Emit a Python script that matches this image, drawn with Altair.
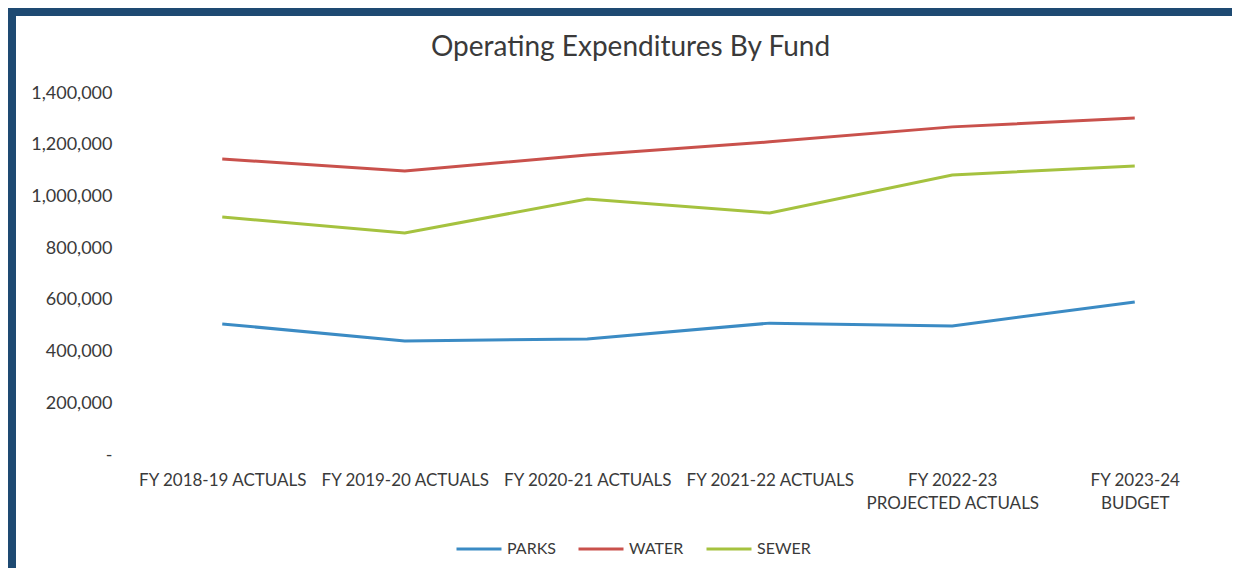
import altair as alt
import pandas as pd

years = [
    "FY 2018-19 ACTUALS",
    "FY 2019-20 ACTUALS",
    "FY 2020-21 ACTUALS",
    "FY 2021-22 ACTUALS",
    "FY 2022-23 PROJECTED ACTUALS",
    "FY 2023-24 BUDGET",
]
funds = ["PARKS", "WATER", "SEWER"]
parks = [507000, 441000, 449000, 510000, 499000, 592000]
water = [1145000, 1098000, 1160000, 1211000, 1269000, 1303000]
sewer = [920000, 859000, 990000, 936000, 1083000, 1118000]
fund_colors = ["#3B8BC4", "#C9514C", "#A5C23F"]
y_ticks = [0, 200000, 400000, 600000, 800000, 1000000, 1200000, 1400000]

rows = []
for fund, vals in zip(funds, [parks, water, sewer]):
    for yr, v in zip(years, vals):
        rows.append({"year": yr, "fund": fund, "value": v})
df = pd.DataFrame(rows)

FONT = "Lato"
TXT = "#3a3a3a"

x_label_expr = (
    "datum.value == 'FY 2022-23 PROJECTED ACTUALS' ? ['FY 2022-23', 'PROJECTED ACTUALS'] : "
    "datum.value == 'FY 2023-24 BUDGET' ? ['FY 2023-24', 'BUDGET'] : datum.value"
)
y_label_expr = "datum.value == 0 ? '-\u00a0\u00a0\u00a0' : format(datum.value, ',')"

lines = alt.Chart(df).mark_line(strokeWidth=3).encode(
    x=alt.X(
        "year:N",
        sort=years,
        title=None,
        axis=alt.Axis(
            labelAngle=0,
            labelExpr=x_label_expr,
            ticks=False,
            domain=False,
            labelPadding=17,
            labelBaseline="top",
            labelLineHeight=23,
            labelFont=FONT,
            labelFontSize=17,
            labelColor=TXT,
            labelLimit=300,
        ),
    ),
    y=alt.Y(
        "value:Q",
        title=None,
        scale=alt.Scale(domain=[0, 1400000], nice=False),
        axis=alt.Axis(
            values=y_ticks,
            labelExpr=y_label_expr,
            ticks=False,
            domain=False,
            grid=False,
            labelPadding=19,
            labelFont=FONT,
            labelFontSize=18,
            labelColor=TXT,
        ),
    ),
    color=alt.Color(
        "fund:N",
        sort=funds,
        scale=alt.Scale(domain=funds, range=fund_colors),
        legend=alt.Legend(
            title=None,
            orient="none",
            direction="horizontal",
            legendX=324,
            legendY=432,
            symbolType="stroke",
            symbolSize=2025,
            symbolStrokeWidth=3,
            labelFont=FONT,
            labelFontSize=16,
            labelColor=TXT,
            labelOffset=4,
            columnPadding=16,
        ),
    ),
    detail="fund:N",
)

frame_df = pd.DataFrame({"part": ["top", "left"]})
frame_top = alt.Chart(frame_df.iloc[[0]]).mark_rect(color="#1E4A72").encode(
    x=alt.value(-123), x2=alt.value(1101), y=alt.value(-85), y2=alt.value(-77)
)
frame_left = alt.Chart(frame_df.iloc[[1]]).mark_rect(color="#1E4A72").encode(
    x=alt.value(-123), x2=alt.value(-115), y=alt.value(-85), y2=alt.value(475)
)

chart = (
    alt.layer(frame_top, frame_left, lines)
    .properties(
        width=1095,
        height=362,
        autosize=alt.AutoSizeParams(type="none"),
        padding={"left": 123, "top": 85, "right": 6, "bottom": 113},
        title=alt.TitleParams(
            "Operating Expenditures By Fund",
            font=FONT,
            fontSize=28,
            fontWeight="normal",
            color=TXT,
            anchor="middle",
            frame="group",
            dx=-48,
            offset=-54,
        ),
    )
    .configure(background="white")
    .configure_view(strokeWidth=0)
)

chart.save("out.html", embed_options={"renderer": "svg", "actions": False})
